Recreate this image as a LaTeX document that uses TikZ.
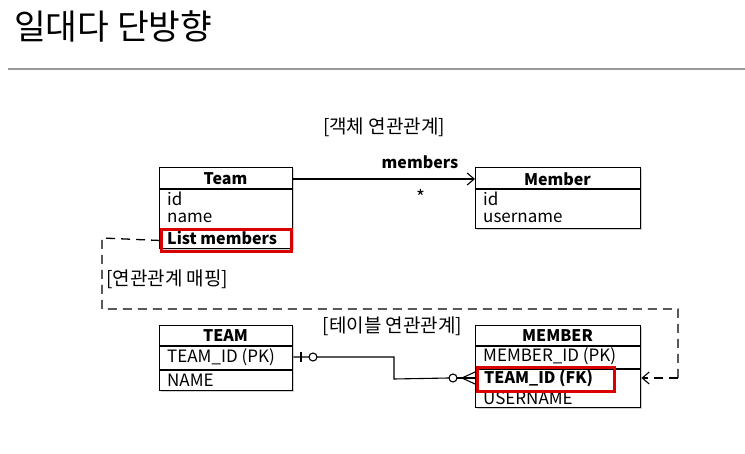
\documentclass[tikz,border=0pt]{standalone}
\usepackage{fontspec}
\setmainfont{Noto Sans CJK KR}
\usetikzlibrary{arrows.meta,shadows,calc}
\begin{document}
\begin{tikzpicture}[x=1pt,y=-1pt,
  box/.style={draw,line width=1.4pt,fill=white,inner sep=0pt,anchor=north west,
    drop shadow={shadow xshift=1.5pt,shadow yshift=-1.5pt,opacity=0.35}},
  attr/.style={anchor=west,inner sep=0pt,font=\fontsize{17}{17}\selectfont},
  battr/.style={anchor=west,inner sep=0pt,font=\fontsize{16}{16}\selectfont\bfseries},
  hdr/.style={inner sep=0pt,font=\fontsize{16}{16}\selectfont\bfseries},
  lbl/.style={inner sep=0pt,font=\fontsize{19}{19}\selectfont},
  redbox/.style={draw=red!85!black,line width=3pt},
  sep/.style={line width=1.1pt},
  conn/.style={line width=1.1pt},
  dashconn/.style={line width=1.3pt,dash pattern=on 9pt off 6pt},
  open/.style={-{Straight Barb[length=7pt,width=12pt,line width=1.1pt]}}
]
\useasboundingbox (0,0) rectangle (745,454);
\fill[white] (0,0) rectangle (745,454);

% title
\node[anchor=base west,inner sep=0pt,font=\fontsize{34.5}{34.5}\selectfont] (title) at (14,40) {일대다 단방향};
\draw[line width=1.5pt,gray!80] (8,69) coordinate (hl) -- (745,69) coordinate (hr);

% object relation
\node[lbl] (objlbl) at (384,127) {[객체 연관관계]};

\node[box,minimum width=133pt,minimum height=81pt] (team) at (159,167) {};
\draw[sep] ([yshift=-22pt]team.north west) -- ([yshift=-22pt]team.north east);
\node[hdr] (teamh) at (225.5,179) {Team};
\node[attr] (tid) at (167,199) {id};
\node[attr] (tname) at (167,218) {name};
\node[battr] (tlist) at (167,238) {List members};
\node[redbox,minimum width=130pt,minimum height=22pt,anchor=north west,inner sep=0pt] (red1) at (160,228) {};

\node[box,minimum width=165pt,minimum height=61pt] (member) at (475,167) {};
\draw[sep] ([yshift=-22pt]member.north west) -- ([yshift=-22pt]member.north east);
\node[hdr] (memberh) at (557.5,179) {Member};
\node[attr] (mid) at (483,199) {id};
\node[attr] (muser) at (483,218) {username};

\draw[conn,open] (team.east |- teamh) -- (member.west |- memberh);
\node[hdr] (mlbl) at (420,162) {members};
\node[lbl] (star) at (421,197) {*};

% mapping
\node[lbl,anchor=west] (maplbl) at (106,279) {[연관관계 매핑]};

% table relation
\node[lbl] (tbllbl) at (392.5,326) {[테이블 연관관계]};

\node[box,minimum width=133pt,minimum height=65pt] (TEAM) at (159,325) {};
\draw[sep] ([yshift=-21pt]TEAM.north west) -- ([yshift=-21pt]TEAM.north east);
\draw[sep] ([yshift=-45pt]TEAM.north west) -- ([yshift=-45pt]TEAM.north east);
\node[hdr] (TEAMh) at (225.5,336) {TEAM};
\node[attr] (TID) at (167,357) {TEAM\_ID (PK)};
\node[attr] (TNAME) at (167,380) {NAME};

\node[box,minimum width=165pt,minimum height=82pt] (MEMBER) at (475,325) {};
\draw[sep] ([yshift=-21pt]MEMBER.north west) -- ([yshift=-21pt]MEMBER.north east);
\draw[sep] ([yshift=-44pt]MEMBER.north west) -- ([yshift=-44pt]MEMBER.north east);
\node[hdr] (MEMBERh) at (557.5,336) {MEMBER};
\node[attr] (MID) at (483,356) {MEMBER\_ID (PK)};
\node[battr] (MTID) at (484,378) {TEAM\_ID (FK)};
\node[attr] (MUSER) at (483,398) {USERNAME};
\node[redbox,minimum width=137pt,minimum height=24pt,anchor=north west,inner sep=0pt] (red2) at (476,366) {};

% ER connector
\coordinate (a1) at (TEAM.east |- TID);
\coordinate (b1) at (MEMBER.west |- MTID);
\draw[conn] (a1) -- (309,357) (317,357) -- (394,357) -- (394,379) -- (449,379 |- b1);
\draw[conn] (301,352) -- (301,362);
\draw[conn] (313,357) circle (4);
\draw[conn] (453,379 |- b1) circle (4);
\draw[conn] (457,379 |- b1) -- (b1);
\draw[conn] (462,379 |- b1) -- ([yshift=6pt]b1) (462,379 |- b1) -- ([yshift=-6pt]b1);

% dashed mapping line
\coordinate (d1) at (102,238);
\coordinate (d2) at (102,309);
\coordinate (d3) at (678,309);
\coordinate (d4) at (678,378);
\draw[dashconn] (red1.west) -- (d1) -- (d2) -- (d3) -- (d4);
\draw[dashconn,open] (d4) -- (MEMBER.east |- d4);
\end{tikzpicture}
\end{document}
